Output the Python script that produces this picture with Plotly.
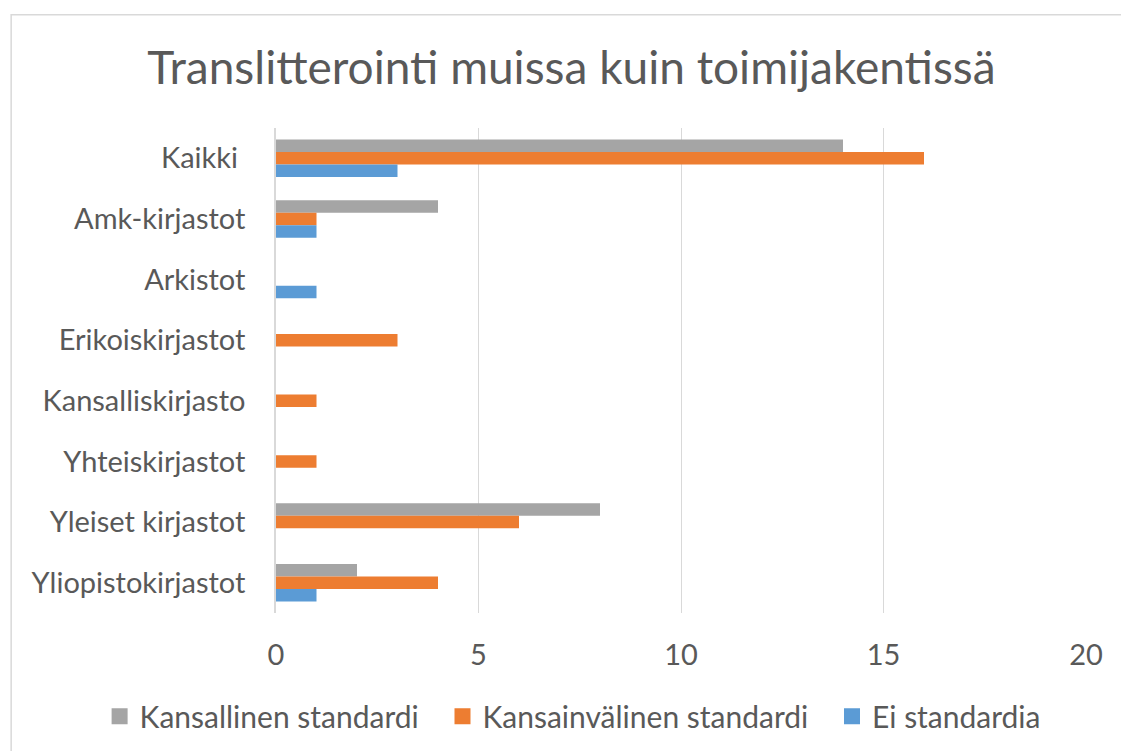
import plotly.graph_objects as go

categories = ["Kaikki\u00a0", "Amk-kirjastot", "Arkistot", "Erikoiskirjastot",
              "Kansalliskirjasto", "Yhteiskirjastot", "Yleiset kirjastot", "Yliopistokirjastot"]
kansallinen = [14, 4, 0, 0, 0, 0, 8, 2]
kansainvalinen = [16, 1, 0, 3, 1, 1, 6, 4]
ei_standardia = [3, 1, 1, 0, 0, 0, 0, 1]
series_names = ["Kansallinen standardi", "Kansainvälinen standardi", "Ei standardia"]
colors = ["#A5A5A5", "#ED7D31", "#5B9BD5"]
x_ticks = [0, 5, 10, 15, 20]

FONT = "Lato"
TXT = "#595959"
FS = 29

fig = go.Figure()
for name, vals, col in zip(series_names, [kansallinen, kansainvalinen, ei_standardia], colors):
    fig.add_trace(go.Bar(
        y=categories, x=vals, name=name, orientation="h",
        marker=dict(color=col, line=dict(width=0)), showlegend=False,
    ))
# legend entries with larger square swatches (spaces widen the gap between entries)
for i, (name, col) in enumerate(zip(series_names, colors)):
    pad = "\u2002\u2009" if i < len(series_names) - 1 else ""
    fig.add_trace(go.Scatter(
        x=[None], y=[None], mode="markers", name=name + pad,
        marker=dict(symbol="square", size=17, color=col), showlegend=True,
    ))

W, H = 1121, 751
L, R, T, B = 276, 34.5, 127.5, 137.5
pw, ph = W - L - R, H - T - B

def px2x(p):
    return (p - L) / pw

def py2y(p):
    return (H - B - p) / ph

fig.update_layout(
    width=W, height=H,
    margin=dict(l=L, r=R, t=T, b=B, autoexpand=False),
    paper_bgcolor="white", plot_bgcolor="white",
    barmode="group", bargap=0.38, bargroupgap=0,
    font=dict(family=FONT, color=TXT, size=FS),
    title=dict(text="Translitterointi muissa kuin toimijakentissä",
               x=571.5 / W, xref="container", xanchor="center",
               y=1 - 68 / H, yref="container", yanchor="middle",
               font=dict(family=FONT, size=46, color=TXT)),
    xaxis=dict(range=[0, 20], tickvals=x_ticks, showgrid=True, gridcolor="#D9D9D9",
               gridwidth=1, zeroline=False, showline=False,
               ticklabelstandoff=22, tickfont=dict(size=FS, color=TXT)),
    yaxis=dict(autorange="reversed", showline=True, linecolor="#D9D9D9", linewidth=1.5,
               showgrid=False, ticklabelstandoff=23, tickfont=dict(size=FS, color=TXT)),
    legend=dict(orientation="h", x=px2x(119.5 - 20), xref="paper", xanchor="left",
                y=py2y(717), yref="paper", yanchor="middle",
                font=dict(size=30, color=TXT), traceorder="normal"),
    showlegend=True,
    shapes=[dict(type="rect", xref="paper", yref="paper",
                 x0=px2x(11), x1=px2x(1130), y0=py2y(760), y1=py2y(14),
                 line=dict(color="#D9D9D9", width=1.5), fillcolor="rgba(0,0,0,0)",
                 layer="below")],
)

fig.write_html("out.html", config={"displayModeBar": False},
               post_script="document.body.style.margin='0';document.body.style.overflow='hidden';")
